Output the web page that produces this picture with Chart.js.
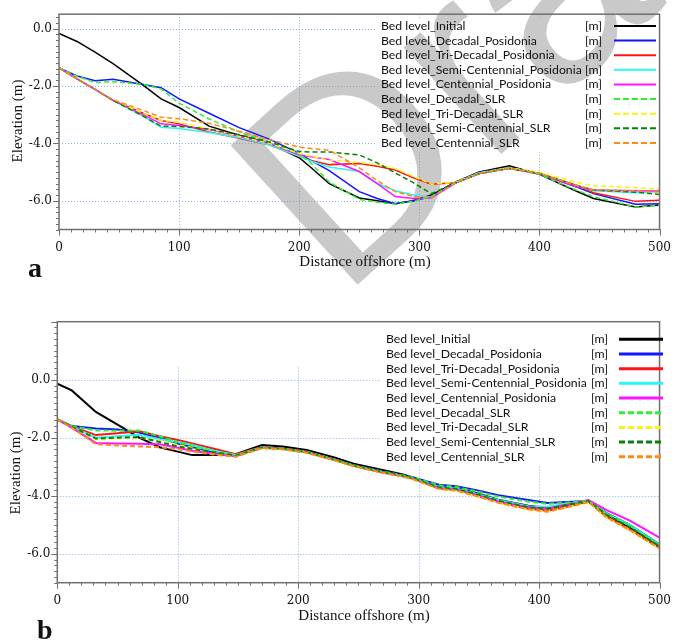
<!DOCTYPE html>
<html>
<head>
<meta charset="utf-8">
<script src="https://cdn.jsdelivr.net/npm/chart.js@4.4.1/dist/chart.umd.min.js"></script>
<style>
body { margin: 0; background: #fff; }
.panel { position: absolute; left: 0; width: 682px; }
#panel_a { top: 0; height: 300px; }
#panel_b { top: 300px; height: 341px; }
</style>
</head>
<body>
<div class="panel" id="panel_a"><canvas id="chart_a" width="682" height="300"></canvas></div>
<div class="panel" id="panel_b"><canvas id="chart_b" width="682" height="341"></canvas></div>
<script>
// series names, in drawing order
const series_labels = [
    'Bed level_Initial',
    'Bed level_Decadal_Posidonia',
    'Bed level_Tri-Decadal_Posidonia',
    'Bed level_Semi-Centennial_Posidonia',
    'Bed level_Centennial_Posidonia',
    'Bed level_Decadal_SLR',
    'Bed level_Tri-Decadal_SLR',
    'Bed level_Semi-Centennial_SLR',
    'Bed level_Centennial_SLR'
];
const series_colors = ['#000000', '#1414ff', '#ff1414', '#2cf5f5', '#ff14ff', '#2ef02e', '#f5f51a', '#0a800a', '#ff8a14'];
const series_dashed = [false, false, false, false, false, true, true, true, true];

const x_tick_vals = [0, 100, 200, 300, 400, 500];
const y_tick_vals = [0, -2, -4, -6];

// ---- panel a ----
const dist_a = [0, 15, 30, 45, 70, 85, 100, 125, 150, 175, 200, 210, 225, 250, 265, 280, 295, 310, 330, 350, 375, 400, 430, 445, 480, 500];
const initial_a      = [-0.17, -0.45, -0.82, -1.22, -1.97, -2.45, -2.75, -3.40, -3.72, -4.00, -4.50, -4.85, -5.40, -5.90, -6.00, -6.10, -6.00, -5.80, -5.35, -5.00, -4.78, -5.08, -5.65, -5.92, -6.22, -6.15];
const dec_pos_a      = [-1.37, -1.65, -1.82, -1.77, -1.95, -2.06, -2.45, -2.95, -3.45, -3.85, -4.35, -4.60, -4.95, -5.68, -5.92, -6.10, -6.00, -5.85, -5.35, -5.00, -4.85, -5.05, -5.50, -5.75, -6.12, -6.10];
const tri_pos_a      = [-1.37, -1.75, -2.12, -2.50, -2.95, -3.20, -3.32, -3.60, -3.82, -4.05, -4.45, -4.60, -4.74, -4.70, -4.80, -4.93, -5.20, -5.42, -5.37, -5.05, -4.87, -5.05, -5.45, -5.72, -6.02, -5.98];
const semi_pos_a     = [-1.37, -1.75, -2.12, -2.50, -3.05, -3.44, -3.48, -3.62, -3.80, -4.05, -4.45, -4.62, -4.82, -4.98, -5.40, -5.65, -5.80, -5.88, -5.38, -5.05, -4.87, -5.05, -5.48, -5.65, -5.72, -5.68];
const cent_pos_a     = [-1.37, -1.75, -2.12, -2.50, -3.00, -3.32, -3.38, -3.52, -3.75, -4.00, -4.40, -4.47, -4.56, -4.98, -5.40, -5.85, -5.92, -5.90, -5.38, -5.05, -4.87, -5.08, -5.50, -5.62, -5.65, -5.66];
const dec_slr_a      = [-1.37, -1.66, -1.88, -1.85, -1.95, -2.10, -2.60, -3.15, -3.60, -3.95, -4.35, -4.70, -5.35, -5.95, -6.05, -6.12, -6.02, -5.85, -5.35, -5.02, -4.85, -5.08, -5.62, -5.85, -6.22, -6.15];
const tri_slr_a      = [-1.37, -1.75, -2.12, -2.50, -2.95, -3.20, -3.26, -3.50, -3.75, -4.00, -4.35, -4.45, -4.58, -4.66, -4.75, -4.88, -5.15, -5.42, -5.36, -5.03, -4.85, -5.00, -5.35, -5.48, -5.54, -5.60];
const semi_slr_a     = [-1.37, -1.75, -2.12, -2.50, -3.05, -3.40, -3.41, -3.50, -3.70, -3.95, -4.28, -4.30, -4.30, -4.40, -4.68, -5.03, -5.37, -5.75, -5.38, -5.05, -4.87, -5.05, -5.45, -5.62, -5.70, -5.78];
const cent_slr_a     = [-1.37, -1.75, -2.12, -2.48, -2.85, -3.09, -3.14, -3.30, -3.58, -3.87, -4.13, -4.18, -4.24, -4.85, -5.30, -5.68, -5.85, -5.90, -5.38, -5.05, -4.87, -5.05, -5.45, -5.62, -5.65, -5.70];

// ---- panel b ----
const dist_b = [0, 12, 32, 50, 68, 85, 100, 112, 130, 148, 170, 187, 207, 230, 246, 268, 287, 296, 317, 331, 347, 366, 391, 407, 423, 441, 456, 475, 500];
const initial_b      = [-0.14, -0.37, -1.11, -1.55, -2.00, -2.33, -2.48, -2.60, -2.60, -2.57, -2.25, -2.30, -2.42, -2.68, -2.90, -3.10, -3.27, -3.38, -3.68, -3.73, -3.90, -4.14, -4.35, -4.42, -4.32, -4.20, -4.70, -5.10, -5.75];
const dec_pos_b      = [-1.37, -1.60, -1.68, -1.72, -1.82, -2.00, -2.20, -2.32, -2.50, -2.62, -2.35, -2.38, -2.48, -2.75, -2.95, -3.15, -3.30, -3.38, -3.62, -3.67, -3.80, -3.98, -4.15, -4.25, -4.22, -4.18, -4.60, -5.00, -5.68];
const tri_pos_b      = [-1.37, -1.60, -1.91, -1.85, -1.78, -1.95, -2.08, -2.20, -2.38, -2.57, -2.32, -2.37, -2.48, -2.75, -2.97, -3.18, -3.33, -3.42, -3.75, -3.80, -3.98, -4.22, -4.45, -4.52, -4.38, -4.20, -4.72, -5.15, -5.80];
const semi_pos_b     = [-1.37, -1.62, -2.00, -1.95, -1.90, -2.05, -2.15, -2.25, -2.45, -2.60, -2.33, -2.38, -2.50, -2.76, -2.96, -3.17, -3.32, -3.41, -3.70, -3.75, -3.92, -4.15, -4.36, -4.38, -4.28, -4.18, -4.62, -5.00, -5.70];
const cent_pos_b     = [-1.37, -1.65, -2.18, -2.20, -2.21, -2.23, -2.35, -2.45, -2.55, -2.64, -2.34, -2.38, -2.50, -2.77, -2.97, -3.18, -3.33, -3.42, -3.74, -3.79, -3.96, -4.20, -4.40, -4.45, -4.30, -4.15, -4.50, -4.85, -5.45];
const dec_slr_b      = [-1.37, -1.60, -1.75, -1.76, -1.75, -1.95, -2.15, -2.28, -2.48, -2.60, -2.35, -2.38, -2.48, -2.75, -2.95, -3.15, -3.30, -3.38, -3.64, -3.70, -3.84, -4.03, -4.20, -4.28, -4.24, -4.18, -4.62, -5.02, -5.70];
const tri_slr_b      = [-1.37, -1.63, -2.05, -2.02, -2.00, -2.10, -2.25, -2.35, -2.50, -2.64, -2.35, -2.40, -2.52, -2.78, -2.98, -3.19, -3.34, -3.44, -3.77, -3.82, -4.00, -4.24, -4.47, -4.55, -4.40, -4.22, -4.75, -5.18, -5.82];
const semi_slr_b     = [-1.37, -1.62, -2.03, -2.00, -1.98, -2.15, -2.30, -2.38, -2.50, -2.62, -2.34, -2.38, -2.50, -2.76, -2.96, -3.17, -3.32, -3.41, -3.72, -3.77, -3.94, -4.17, -4.40, -4.45, -4.32, -4.19, -4.66, -5.08, -5.75];
const cent_slr_b     = [-1.37, -1.65, -2.22, -2.27, -2.30, -2.33, -2.40, -2.48, -2.58, -2.66, -2.36, -2.40, -2.52, -2.78, -2.98, -3.19, -3.34, -3.44, -3.77, -3.82, -4.00, -4.24, -4.47, -4.55, -4.40, -4.22, -4.75, -5.18, -5.82];

const values_a = [initial_a, dec_pos_a, tri_pos_a, semi_pos_a, cent_pos_a, dec_slr_a, tri_slr_a, semi_slr_a, cent_slr_a];
const values_b = [initial_b, dec_pos_b, tri_pos_b, semi_pos_b, cent_pos_b, dec_slr_b, tri_slr_b, semi_slr_b, cent_slr_b];

const tick_font = {family: '"DejaVu Serif"', size: 12};
const title_font = '15px "Liberation Serif"';
const text_color = '#111111';
const grid_color = 'rgba(110,165,230,0.85)';
const frame_color = '#6f6f6f';

function make_datasets(dist, values, width) {
    return values.map((vals, k) => ({
        label: series_labels[k],
        data: dist.map((x, i) => ({x: x, y: vals[i]})),
        borderColor: series_colors[k],
        borderWidth: width,
        borderDash: series_dashed[k] ? [5, 3] : [],
        pointRadius: 0,
        tension: 0,
        fill: false,
        order: -k
    }));
}

// legend text is sized so the longest name spans a fixed width
function legend_font(target_w) {
    const c = document.createElement('canvas').getContext('2d');
    c.font = '14px Lato';
    const w = c.measureText('Bed level_Semi-Centennial_Posidonia').width;
    return (14 * target_w / w).toFixed(2) + 'px Lato';
}

function draw_line(ctx, x0, y0, x1, y1) {
    ctx.beginPath();
    ctx.moveTo(x0, y0);
    ctx.lineTo(x1, y1);
    ctx.stroke();
}

const figure_plugin = {
    id: 'figure',
    beforeDatasetsDraw(chart, args, opts) {
        const ctx = chart.ctx;
        const area = chart.chartArea;
        const xs = chart.scales.x;
        const ys = chart.scales.y;
        ctx.save();
        // dotted grid
        ctx.strokeStyle = grid_color;
        ctx.lineWidth = 1;
        ctx.setLineDash([1, 2]);
        for (const v of y_tick_vals) {
            const py = Math.round(ys.getPixelForValue(v)) + 0.5;
            draw_line(ctx, area.left, py, area.right, py);
        }
        const grid_top = ys.getPixelForValue(opts.grid_top);
        for (const v of x_tick_vals.slice(1, -1)) {
            const px = Math.round(xs.getPixelForValue(v)) + 0.5;
            draw_line(ctx, px, grid_top, px, area.bottom);
        }
        ctx.setLineDash([]);
        // legend background hides the grid
        const box = opts.legend.box;
        ctx.fillStyle = '#ffffff';
        ctx.fillRect(box[0], box[1], box[2], box[3]);
        if (opts.watermark) {
            const wm = opts.watermark;
            ctx.globalCompositeOperation = 'darken';
            ctx.fillStyle = 'rgb(201,201,201)';
            ctx.translate(wm.x, wm.y);
            ctx.rotate(wm.angle * Math.PI / 180);
            ctx.font = wm.size + 'px "Liberation Sans"';
            ctx.textBaseline = 'alphabetic';
            ctx.fillText(wm.text, 0, 0);
        }
        ctx.restore();
    },
    afterDatasetsDraw(chart, args, opts) {
        const ctx = chart.ctx;
        const area = chart.chartArea;
        const xs = chart.scales.x;
        const ys = chart.scales.y;
        ctx.save();
        // frame
        ctx.strokeStyle = frame_color;
        ctx.lineWidth = 1.5;
        ctx.strokeRect(area.left, area.top, area.right - area.left, area.bottom - area.top);
        // tick marks, minor every 10 m / 0.2 m
        ctx.lineWidth = 1;
        for (let v = 0; v <= 500; v += 10) {
            const px = Math.round(xs.getPixelForValue(v)) + 0.5;
            draw_line(ctx, px, area.bottom, px, area.bottom + (v % 100 === 0 ? 6 : 3));
        }
        for (let i = Math.ceil(ys.min * 5); i <= Math.floor(ys.max * 5); i++) {
            const py = Math.round(ys.getPixelForValue(i / 5)) + 0.5;
            draw_line(ctx, area.left, py, area.left - (i % 10 === 0 ? 6 : 3), py);
        }
        // axis titles
        ctx.fillStyle = text_color;
        ctx.font = title_font;
        ctx.textAlign = 'center';
        ctx.textBaseline = 'middle';
        ctx.fillText('Distance offshore (m)', opts.x_title[0], opts.x_title[1]);
        ctx.save();
        ctx.translate(opts.y_title[0], opts.y_title[1]);
        ctx.rotate(-Math.PI / 2);
        ctx.fillText('Elevation (m)', 0, 0);
        ctx.restore();
        // panel letter
        ctx.font = 'bold 28px "Liberation Serif"';
        ctx.textAlign = 'left';
        ctx.textBaseline = 'alphabetic';
        ctx.fillText(opts.letter, opts.letter_pos[0], opts.letter_pos[1]);
        // legend entries
        const lg = opts.legend;
        ctx.font = legend_font(201);
        ctx.textBaseline = 'middle';
        chart.data.datasets.forEach((ds, k) => {
            const py = lg.y0 + k * lg.dy;
            ctx.fillStyle = text_color;
            ctx.fillText(ds.label, lg.text_x, py);
            ctx.fillText('[m]', lg.unit_x, py);
            ctx.strokeStyle = ds.borderColor;
            ctx.lineWidth = lg.line_w;
            ctx.setLineDash(ds.borderDash.length ? [6, 3] : []);
            draw_line(ctx, lg.line_x0, py, lg.line_x1, py);
        });
        ctx.restore();
    }
};

function make_chart(canvas_id, dist, values, cfg) {
    return new Chart(document.getElementById(canvas_id), {
        type: 'line',
        data: {datasets: make_datasets(dist, values, cfg.line_w)},
        options: {
            responsive: false,
            animation: false,
            events: [],
            layout: {padding: {left: 0, right: 11, top: cfg.pad_top, bottom: 0}},
            scales: {
                x: {
                    type: 'linear',
                    min: 0,
                    max: 500,
                    afterBuildTicks: s => { s.ticks = x_tick_vals.map(v => ({value: v})); },
                    afterFit: s => { s.height = cfg.x_height; },
                    grid: {display: false, drawTicks: false},
                    border: {display: false},
                    ticks: {padding: 11, font: tick_font, color: text_color, maxRotation: 0, autoSkip: false}
                },
                y: {
                    type: 'linear',
                    min: -7,
                    max: cfg.y_max,
                    afterBuildTicks: s => { s.ticks = y_tick_vals.map(v => ({value: v})); },
                    afterFit: s => { s.width = cfg.y_width; },
                    grid: {display: false, drawTicks: false},
                    border: {display: false},
                    ticks: {padding: 7, font: tick_font, color: text_color, autoSkip: false,
                            callback: v => v.toFixed(1)}
                }
            },
            plugins: {
                legend: {display: false},
                tooltip: {enabled: false},
                figure: cfg.figure
            }
        },
        plugins: [figure_plugin]
    });
}

make_chart('chart_a', dist_a, values_a, {
    line_w: 1.5, pad_top: 13, x_height: 70.5, y_width: 59, y_max: 0.5,
    figure: {
        grid_top: 0.5,
        x_title: [365, 262],
        y_title: [18, 121],
        letter: 'a',
        letter_pos: [28, 277],
        legend: {box: [376, 19, 287, 132], text_x: 381, unit_x: 585, line_x0: 614, line_x1: 656, y0: 26, dy: 14.62, line_w: 2},
        watermark: {text: 'Draft', x: 341, y: 300, angle: -42.3, size: 274}
    }
});

make_chart('chart_b', dist_b, values_b, {
    line_w: 2, pad_top: 21.7, x_height: 58.3, y_width: 57.3, y_max: 2,
    figure: {
        grid_top: 0.42,
        x_title: [364, 315.7],
        y_title: [16, 173],
        letter: 'b',
        letter_pos: [37, 339],
        legend: {box: [381, 31, 287, 134], text_x: 386, unit_x: 591, line_x0: 619, line_x1: 663, y0: 39.3, dy: 14.68, line_w: 3},
        watermark: null
    }
});
</script>
</body>
</html>
